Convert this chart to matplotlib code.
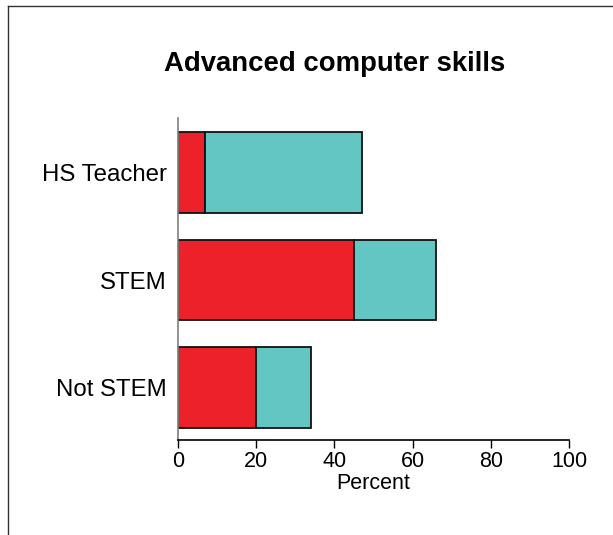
import matplotlib
matplotlib.use("Agg")
from matplotlib import pyplot as plt
from matplotlib.lines import Line2D

plt.rcParams['font.family'] = ['Liberation Sans', 'DejaVu Sans']

# data (percent)
groups = ['Not STEM', 'STEM', 'HS Teacher']
part_red = [20, 45, 7]
part_teal = [14, 21, 40]
x_ticks = [0, 20, 40, 60, 80, 100]

red = '#ED2129'
teal = '#63C6C3'

fig = plt.figure(figsize=(6.13, 5.35), dpi=100)
ax = fig.add_axes([0.2904, 0.1776, 0.6378, 0.6019])

ax.barh(groups, part_red, height=0.75, color=red, edgecolor='#111111', linewidth=1.3)
ax.barh(groups, part_teal, left=part_red, height=0.75, color=teal,
        edgecolor='#111111', linewidth=1.3)

ax.set_xlim(0, 100)
ax.set_ylim(-0.49, 2.51)
ax.set_xticks(x_ticks)
ax.tick_params(axis='x', length=6, width=1, pad=2, labelsize=15.5)
ax.tick_params(axis='y', length=0, pad=8, labelsize=17.3)
ax.set_xlabel('Percent', fontsize=15.5, labelpad=1)

for side in ['top', 'right']:
    ax.spines[side].set_visible(False)
ax.spines['left'].set_color('#7f7f7f')
ax.spines['left'].set_linewidth(1.2)
ax.spines['bottom'].set_linewidth(1.2)

fig.text(0.5465, 1 - 71.2 / 535, 'Advanced computer skills', ha='center',
         va='baseline', fontsize=19.8, fontweight='bold')

# frame lines at top and left of the picture
fig.add_artist(Line2D([8 / 613, 8 / 613], [0, 1 - 6 / 535], color='#333333', lw=1))
fig.add_artist(Line2D([8 / 613, 1], [1 - 6 / 535, 1 - 6 / 535], color='#333333', lw=1))

fig.savefig('out.png', dpi=100)
